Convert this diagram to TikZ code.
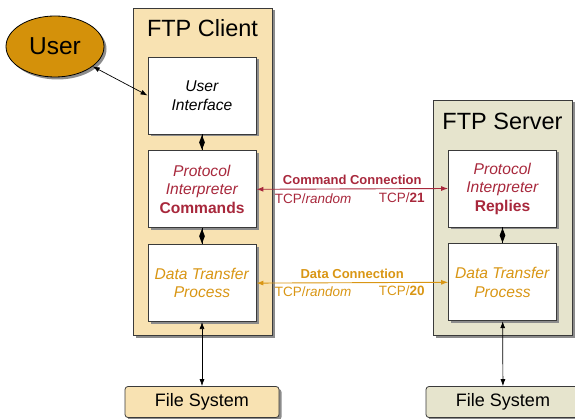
\documentclass[tikz,border=0pt]{standalone}
\usepackage{fontspec}
\setmainfont{Liberation Sans}
\usetikzlibrary{arrows.meta,positioning,shapes.geometric,shadows}
\definecolor{cmdred}{HTML}{A8283C}
\definecolor{dataorange}{HTML}{D99614}
\definecolor{usergold}{HTML}{D4910A}
\definecolor{clienttan}{HTML}{F8E2B2}
\definecolor{serverkhaki}{HTML}{E6E4CD}
\definecolor{edge}{HTML}{3A3A3A}
\tikzset{
  >={Latex[length=7pt,width=5pt]},
  shade/.style={drop shadow={shadow xshift=2.5pt,shadow yshift=-2.5pt,fill=black!45,opacity=1}},
  flow/.style={<->,draw=black,line width=0.7pt},
  link/.style={draw=black,line width=0.7pt},
  cmdflow/.style={<->,draw=cmdred,line width=0.9pt},
  dataflow/.style={<->,draw=dataorange,line width=0.9pt},
  box/.style={draw=edge,line width=0.8pt,fill=white,shade,align=center,
    minimum width=108pt,minimum height=77pt,inner sep=2pt,
    font=\fontsize{15.6}{18.5}\selectfont},
  clientbox/.style={draw=edge,line width=0.8pt,fill=clienttan,shade,
    minimum width=139pt,inner sep=0pt},
  serverbox/.style={clientbox,fill=serverkhaki},
  fsbox/.style={rounded corners=3pt,draw=edge,line width=0.8pt,fill=clienttan,shade,
    minimum width=154pt,minimum height=31pt,font=\fontsize{18}{20}\selectfont},
  sfsbox/.style={fsbox,fill=serverkhaki},
  userellipse/.style={ellipse,draw=black,line width=0.8pt,fill=usergold,shade,
    minimum width=98pt,minimum height=61pt,font=\fontsize{24.5}{28}\selectfont},
  title/.style={inner sep=1pt,font=\fontsize{23.5}{27}\selectfont},
  dmd/.style={diamond,fill=black,inner sep=0pt,minimum width=6pt,minimum height=15pt},
  conlabel/.style={font=\fontsize{13}{15}\selectfont\bfseries,inner sep=4pt},
  tcp/.style={font=\fontsize{13.5}{15}\selectfont,inner sep=1pt}
}
\begin{document}
\begin{tikzpicture}[x=1pt,y=-1pt]
  \useasboundingbox (0,0) rectangle (575,419);
  % containers
  \node[clientbox,minimum height=327pt] (client) at (202.5,171.5) {};
  \node[serverbox,minimum height=235pt] (server) at (502.5,217.5) {};
  \node[title] (ctitle) at (202.5,28) {FTP Client};
  \node[title] (stitle) at (502.5,121) {FTP Server};
  % client side
  \node[box] (ui) at (202,95.5) {\textit{User}\\\textit{Interface}};
  \node[box,text=cmdred,below=16pt of ui] (pi) {\textit{Protocol}\\\textit{Interpreter}\\\textbf{Commands}};
  \node[box,text=dataorange,below=16pt of pi] (dtp) {\textit{Data Transfer}\\\textit{Process}};
  % server side
  \node[box,text=cmdred] (spi) at (502.5,188.5) {\textit{Protocol}\\\textit{Interpreter}\\\textbf{Replies}};
  \node[box,text=dataorange,below=16pt of spi] (sdtp) {\textit{Data Transfer}\\\textit{Process}};
  % user and file systems
  \node[userellipse] (user) at (55,46.5) {User};
  \node[fsbox] (cfs) at (202,402) {File System};
  \node[sfsbox] (sfs) at (503,402) {File System};
  % internal links
  \draw[link] (ui) -- node[dmd] {} (pi);
  \draw[link] (pi) -- node[dmd] {} (dtp);
  \draw[link] (spi) -- node[dmd] {} (sdtp);
  % connections
  \draw[flow] (user) -- (ui.west);
  \draw[cmdflow] (pi.east) -- node[conlabel,above,text=cmdred] {Command Connection}
    node[tcp,pos=0,anchor=north west,xshift=17pt,yshift=-3pt,text=cmdred] {TCP/\textit{random}}
    node[tcp,pos=1,anchor=north east,xshift=-22pt,yshift=-3pt,text=cmdred] {TCP/\textbf{21}} (spi.west);
  \draw[dataflow] (dtp.east) -- node[conlabel,above,text=dataorange] {Data Connection}
    node[tcp,pos=0,anchor=north west,xshift=17pt,yshift=-2pt,text=dataorange] {TCP/\textit{random}}
    node[tcp,pos=1,anchor=north east,xshift=-22pt,yshift=-2pt,text=dataorange] {TCP/\textbf{20}} (sdtp.west);
  \draw[flow] (dtp) -- (cfs);
  \draw[flow] (sdtp) -- (sfs);
\end{tikzpicture}
\end{document}
